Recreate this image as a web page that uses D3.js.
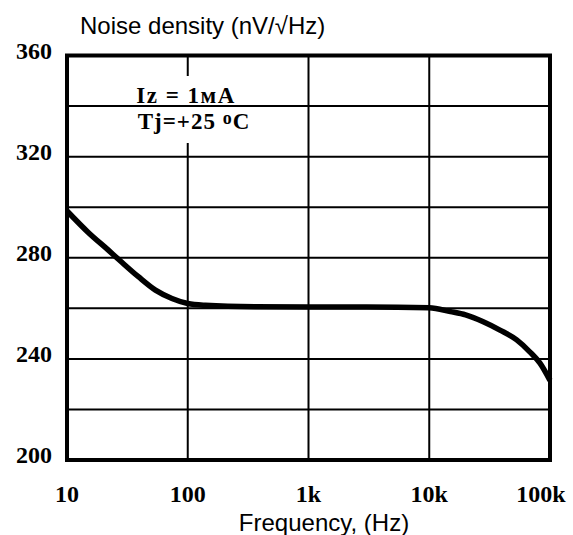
<!DOCTYPE html>
<html>
<head>
<meta charset="utf-8">
<script src="https://cdn.jsdelivr.net/npm/d3@7"></script>
<style>
   body { margin: 0; background: #fff; }
   svg { display: block; }
</style>
</head>
<body>
<svg id="chart"></svg>
<script>
// values
const freqHz = [10, 15, 22, 28, 39, 54, 74, 100, 140, 360, 1000, 3000, 10000, 15000, 20000, 28000, 38500, 53000, 68000, 82600, 100000];
const noiseDensity = [298.5, 290, 283, 278.5, 272.5, 267.2, 263.9, 261.9, 261.2, 260.6, 260.5, 260.5, 260.2, 258.7, 257.4, 254.7, 251.4, 247.5, 242.8, 238.3, 231.5];
const xTicks = [10, 100, 1000, 10000, 100000];
const xTickLabels = ['10', '100', '1k', '10k', '100k'];
const yTicks = [200, 240, 280, 320, 360];
const yGrid = [220, 240, 260, 280, 300, 320, 340];

const WIDTH = 573,
      HEIGHT = 535,
      MARGINS = { top: 55.5, right: 23, bottom: 75, left: 67 };

const svg = d3.select('#chart')
   .attr('width', WIDTH)
   .attr('height', HEIGHT);

const x = d3.scaleLog()
   .domain([10, 100000])
   .range([MARGINS.left, WIDTH - MARGINS.right]);
const y = d3.scaleLinear()
   .domain([200, 360])
   .range([HEIGHT - MARGINS.bottom, MARGINS.top]);

const serif = '"Liberation Serif", "Times New Roman", serif',
      sans = '"Liberation Sans", Arial, sans-serif';

// vertical grid
svg.append('g')
   .selectAll('line')
   .data(xTicks.slice(1, -1))
   .enter().append('line')
   .attr('x1', d => x(d)).attr('x2', d => x(d))
   .attr('y1', y(360)).attr('y2', y(200))
   .attr('stroke', '#000')
   .attr('stroke-width', 2);

// white gap in the 100 Hz line behind the condition text
svg.append('rect')
   .attr('x', x(100) - 4)
   .attr('y', 76)
   .attr('width', 8)
   .attr('height', 67)
   .attr('fill', '#fff');

// horizontal grid
svg.append('g')
   .selectAll('line')
   .data(yGrid)
   .enter().append('line')
   .attr('x1', x(10)).attr('x2', x(100000))
   .attr('y1', d => y(d)).attr('y2', d => y(d))
   .attr('stroke', '#000')
   .attr('stroke-width', 2);

// frame
svg.append('rect')
   .attr('x', x(10))
   .attr('y', y(360))
   .attr('width', x(100000) - x(10))
   .attr('height', y(200) - y(360))
   .attr('fill', 'none')
   .attr('stroke', '#000')
   .attr('stroke-width', 4);

// curve
const data = freqHz.map((f, i) => ({ f: f, v: noiseDensity[i] }));
const line = d3.line()
   .x(d => x(d.f))
   .y(d => y(d.v))
   .curve(d3.curveMonotoneX);

svg.append('path')
   .datum(data)
   .attr('fill', 'none')
   .attr('stroke', '#000')
   .attr('stroke-width', 5.5)
   .attr('stroke-linejoin', 'round')
   .attr('d', line);

// y tick labels
svg.append('g')
   .selectAll('text')
   .data(yTicks)
   .enter().append('text')
   .attr('x', 52)
   .attr('y', d => y(d) + 3)
   .attr('text-anchor', 'end')
   .attr('font-family', serif)
   .attr('font-weight', 'bold')
   .attr('font-size', 24)
   .text(d => d);

// x tick labels
svg.append('g')
   .selectAll('text')
   .data(xTicks)
   .enter().append('text')
   .attr('x', (d, i) => i === xTicks.length - 1 ? x(d) - 9 : x(d))
   .attr('y', 502)
   .attr('text-anchor', 'middle')
   .attr('font-family', serif)
   .attr('font-weight', 'bold')
   .attr('font-size', 24)
   .text((d, i) => xTickLabels[i]);

// axis titles
svg.append('text')
   .attr('x', 80)
   .attr('y', 34)
   .attr('font-family', sans)
   .attr('font-size', 24)
   .text('Noise density (nV/\u221AHz)');

svg.append('text')
   .attr('x', 324)
   .attr('y', 531)
   .attr('text-anchor', 'middle')
   .attr('font-family', sans)
   .attr('font-size', 24)
   .text('Frequency, (Hz)');

// conditions
svg.append('text')
   .attr('x', 186)
   .attr('y', 103)
   .attr('text-anchor', 'middle')
   .attr('font-family', serif)
   .attr('font-weight', 'bold')
   .attr('font-size', 23)
   .attr('letter-spacing', 1.5)
   .text('Iz = 1\u043CA');

const tj = svg.append('text')
   .attr('x', 194)
   .attr('y', 129)
   .attr('text-anchor', 'middle')
   .attr('font-family', serif)
   .attr('font-weight', 'bold')
   .attr('font-size', 23)
   .attr('letter-spacing', 1);
tj.append('tspan').text('Tj=+25 ');
tj.append('tspan').attr('font-size', 18).attr('dy', -5).text('o');
tj.append('tspan').attr('dy', 5).text('C');
</script>
</body>
</html>
